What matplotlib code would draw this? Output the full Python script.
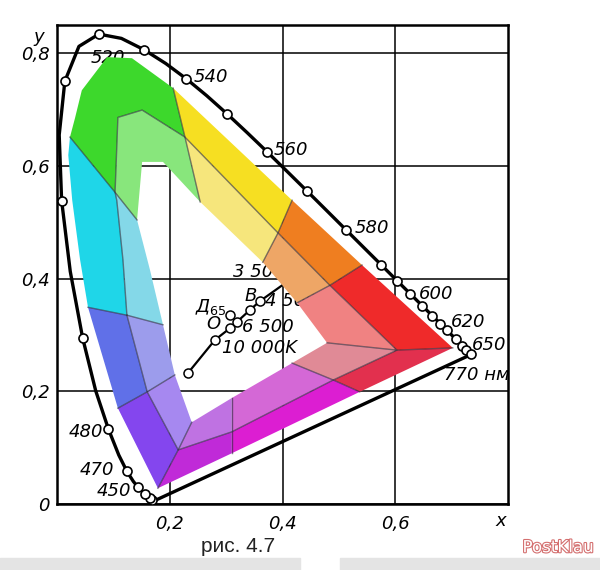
import matplotlib
matplotlib.use("Agg")
import matplotlib.pyplot as plt
import matplotlib.patheffects as pe
from matplotlib.patches import Rectangle

# ---------------- data ----------------
# spectral locus (x, y chromaticity) by wavelength, nm
locus_nm = [420, 430, 440, 445, 450, 455, 460, 465, 470, 475, 480, 485, 490,
            495, 500, 505, 510, 515, 520, 525, 530, 535, 540, 545, 550, 555,
            560, 565, 570, 575, 580, 585, 590, 595, 600, 605, 610, 615, 620,
            625, 630, 635, 640, 645, 650, 660, 680, 700]
locus_x = [0.1714, 0.1689, 0.1644, 0.1611, 0.1566, 0.1510, 0.1440, 0.1355,
           0.1241, 0.1096, 0.0913, 0.0687, 0.0454, 0.0235, 0.0082, 0.0039,
           0.0139, 0.0389, 0.0743, 0.1142, 0.1547, 0.1929, 0.2296, 0.2658,
           0.3016, 0.3373, 0.3731, 0.4087, 0.4441, 0.4788, 0.5125, 0.5448,
           0.5752, 0.6029, 0.6270, 0.6482, 0.6658, 0.6801, 0.6915, 0.7006,
           0.7079, 0.7140, 0.7190, 0.7230, 0.7260, 0.7300, 0.7334, 0.7347]
locus_y = [0.0051, 0.0069, 0.0109, 0.0138, 0.0177, 0.0227, 0.0297, 0.0399,
           0.0578, 0.0868, 0.1327, 0.2007, 0.2950, 0.4127, 0.5384, 0.6548,
           0.7502, 0.8120, 0.8338, 0.8262, 0.8059, 0.7816, 0.7543, 0.7243,
           0.6923, 0.6589, 0.6245, 0.5896, 0.5547, 0.5202, 0.4866, 0.4544,
           0.4242, 0.3965, 0.3725, 0.3514, 0.3340, 0.3197, 0.3083, 0.2993,
           0.2920, 0.2859, 0.2809, 0.2770, 0.2740, 0.2700, 0.2666, 0.2653]
marked_nm = [430, 440, 450, 460, 470, 480, 490, 500, 510, 520, 530, 540, 550,
             560, 570, 580, 590, 595, 600, 605, 610, 615, 620, 630, 640, 650, 700]

locus_labels = ["520", "540", "560", "580", "600", "620", "650", "770 нм",
                "480", "470", "450"]
locus_label_x = [0.090, 0.273, 0.415, 0.559, 0.672, 0.729, 0.766, 0.745,
                 0.051, 0.071, 0.101]
locus_label_y = [0.792, 0.757, 0.628, 0.490, 0.372, 0.323, 0.282, 0.229,
                 0.128, 0.060, 0.023]

# black body line and sources
planck_x = [0.232, 0.280, 0.307, 0.319, 0.342, 0.360, 0.405]
planck_y = [0.232, 0.291, 0.312, 0.323, 0.344, 0.360, 0.392]
d65_x, d65_y = 0.307, 0.335

planck_labels = ["3 500", "4 500", "В", "Д$_{65}$", "O", "6 500", "10 000K"]
planck_label_x = [0.312, 0.369, 0.332, 0.245, 0.265, 0.328, 0.293]
planck_label_y = [0.412, 0.360, 0.369, 0.350, 0.319, 0.314, 0.277]

# colour band: outer edge, middle line, inner edge (closed rings)
outer_x = [0.055, 0.041, 0.027, 0.020, 0.023, 0.032, 0.044, 0.089, 0.133,
           0.206, 0.417, 0.541, 0.702, 0.537, 0.310, 0.179, 0.108]
outer_y = [0.349, 0.433, 0.539, 0.619, 0.651, 0.685, 0.734, 0.793, 0.791,
           0.738, 0.539, 0.424, 0.277, 0.199, 0.090, 0.028, 0.170]
mid_x = [0.124, 0.117, 0.106, 0.103, 0.108, 0.151, 0.227, 0.392, 0.484,
         0.603, 0.490, 0.310, 0.215, 0.160]
mid_y = [0.335, 0.433, 0.539, 0.553, 0.686, 0.699, 0.651, 0.481, 0.388,
         0.273, 0.220, 0.128, 0.096, 0.199]
inner_x = [0.188, 0.165, 0.142, 0.151, 0.188, 0.254, 0.365, 0.426, 0.479,
           0.417, 0.310, 0.239, 0.209]
inner_y = [0.318, 0.415, 0.504, 0.607, 0.607, 0.536, 0.429, 0.357, 0.286,
           0.250, 0.188, 0.145, 0.229]
# sector k runs from cut[k] to cut[k+1] on each ring
outer_cut = [0, 4, 9, 10, 11, 12, 13, 14, 15, 16, 17]
mid_cut = [0, 3, 6, 7, 8, 9, 10, 11, 12, 13, 14]
inner_cut = [0, 2, 5, 6, 7, 8, 9, 10, 11, 12, 13]

sectors = ["cyan", "green", "yellow", "orange", "red", "crimson",
           "magenta", "violet", "purple", "blue"]
strong_colors = ["#1fd6e8", "#3dd82c", "#f6df22", "#ef7e20", "#ef2a2a",
                 "#e2304e", "#dc1ed2", "#c02ad8", "#8446ee", "#6070e8"]
light_colors = ["#84d8e8", "#88e67c", "#f6e67c", "#eea666", "#f08282",
                "#e08a96", "#d468d6", "#bf72e2", "#a688f0", "#9c9cec"]

# ---------------- figure ----------------
fig = plt.figure(figsize=(6.0, 5.7), dpi=100)
ax = fig.add_axes([0.095, 0.1158, 0.7517, 0.8404])
ax.set_xlim(0, 0.8)
ax.set_ylim(0, 0.85)

tick_font = dict(family=["Liberation Sans Narrow", "DejaVu Sans"],
                 style="italic", size=13)

# closed rings
ox, oy = outer_x + outer_x[:1], outer_y + outer_y[:1]
mx, my = mid_x + mid_x[:1], mid_y + mid_y[:1]
ix, iy = inner_x + inner_x[:1], inner_y + inner_y[:1]

for k in range(len(sectors)):
    o0, o1 = outer_cut[k], outer_cut[k + 1]
    m0, m1 = mid_cut[k], mid_cut[k + 1]
    i0, i1 = inner_cut[k], inner_cut[k + 1]
    # saturated half (outer edge -> middle line)
    px = ox[o0:o1 + 1] + mx[m0:m1 + 1][::-1]
    py = oy[o0:o1 + 1] + my[m0:m1 + 1][::-1]
    ax.fill(px, py, color=strong_colors[k], lw=0, zorder=2)
    # light half (middle line -> inner edge)
    px = mx[m0:m1 + 1] + ix[i0:i1 + 1][::-1]
    py = my[m0:m1 + 1] + iy[i0:i1 + 1][::-1]
    ax.fill(px, py, color=light_colors[k], lw=0, zorder=2)
    # divider across the band
    ax.plot([ox[o0], mx[m0], ix[i0]], [oy[o0], my[m0], iy[i0]],
            color="#2a2a3a", alpha=0.6, lw=1.0, zorder=3)

ax.plot(mx, my, color="#2a2a3a", alpha=0.6, lw=1.0, zorder=3)

# spectral locus with the line of purples
ax.plot(locus_x + locus_x[:1], locus_y + locus_y[:1], color="black",
        lw=2.4, zorder=4, solid_joinstyle="round")
mk_x = [locus_x[locus_nm.index(w)] for w in marked_nm]
mk_y = [locus_y[locus_nm.index(w)] for w in marked_nm]
ax.plot(mk_x, mk_y, "o", ms=6.5, mfc="white", mec="black", mew=1.2,
        zorder=5)

for t, x, y in zip(locus_labels, locus_label_x, locus_label_y):
    ax.text(x, y, t, ha="center", va="center", zorder=1, **tick_font)

# black body line
ax.plot(planck_x, planck_y, color="black", lw=1.6, zorder=1.5)
ax.plot(planck_x[:-1], planck_y[:-1], "o", ms=6.5, mfc="white",
        mec="black", mew=1.1, zorder=1.6)
ax.plot([d65_x], [d65_y], "o", ms=6.5, mfc="white", mec="black", mew=1.1,
        zorder=1.6)
for t, x, y in zip(planck_labels, planck_label_x, planck_label_y):
    ax.text(x, y, t, ha="left", va="center", zorder=1, **tick_font)

# axes, grid, ticks
ax.set_xticks([0.2, 0.4, 0.6])
ax.set_xticklabels(["0,2", "0,4", "0,6"], fontdict=tick_font)
ax.set_yticks([0, 0.2, 0.4, 0.6, 0.8])
ax.set_yticklabels(["0", "0,2", "0,4", "0,6", "0,8"], fontdict=tick_font)
ax.tick_params(length=0, pad=5)
ax.tick_params(axis="x", pad=8)
ax.set_axisbelow(True)
ax.grid(color="black", lw=1.1)
for s in ax.spines.values():
    s.set_linewidth(1.8)
ax.text(-0.032, 0.828, "y", ha="center", va="center", **tick_font)
ax.text(0.787, -0.03, "x", ha="center", va="center", **tick_font)

# caption, scan strip and watermark
fig.text(238 / 600, 1 - 547 / 570, "рис. 4.7", ha="center", va="center",
         fontsize=15, family="Liberation Sans", color="#222222")
fig.patches.append(Rectangle((0, 0), 0.5, 12 / 570, transform=fig.transFigure,
                             color="#e4e4e4", zorder=0))
fig.patches.append(Rectangle((0.567, 0), 0.433, 12 / 570,
                             transform=fig.transFigure, color="#e4e4e4",
                             zorder=0))
wm = fig.text(0.93, 0.04, "PostKlau", ha="center", va="center", fontsize=12,
              family="DejaVu Sans", color="white")
wm.set_path_effects([pe.withStroke(linewidth=1.6, foreground="#d46f6f")])

fig.savefig("out.png", dpi=100)
